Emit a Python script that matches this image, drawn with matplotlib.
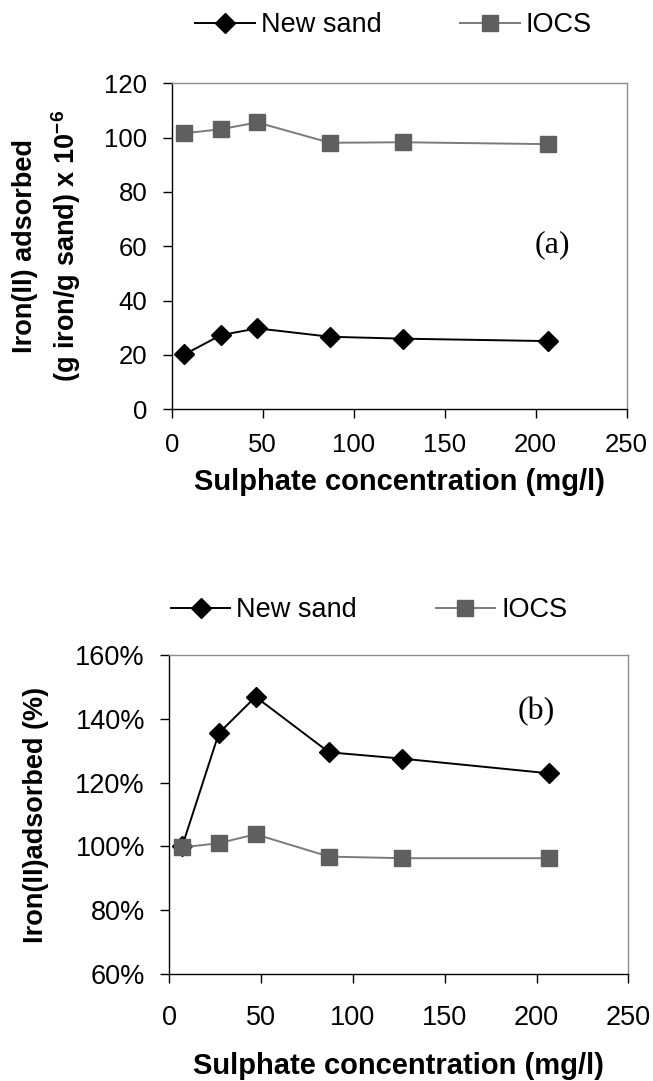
import matplotlib
matplotlib.use("Agg")
import matplotlib.pyplot as plt
from matplotlib.ticker import FuncFormatter

plt.rcParams['font.family'] = ['Liberation Sans', 'DejaVu Sans']
plt.rcParams['mathtext.default'] = 'regular'

# Data
sulphate = [7, 27, 47, 87, 127, 207]
new_sand_a = [20.2, 27.3, 29.8, 26.7, 26.0, 25.1]
iocs_a = [101.6, 103.1, 105.6, 98.1, 98.3, 97.6]
new_sand_b = [100.0, 135.5, 146.9, 129.5, 127.5, 122.9]
iocs_b = [99.7, 101.0, 103.8, 96.8, 96.3, 96.3]
xticks = [0, 50, 100, 150, 200, 250]
yticks_a = [0, 20, 40, 60, 80, 100, 120]
yticks_b = [60, 80, 100, 120, 140, 160]

W, H = 653, 1081
fig = plt.figure(figsize=(W / 100, H / 100), dpi=100)

def px_axes(l, t, r, b):
    return fig.add_axes([l / W, 1 - b / H, (r - l) / W, (b - t) / H])

ax1 = px_axes(171.7, 83.3, 626.7, 409.3)
ax2 = px_axes(169.3, 655, 628.3, 974)

ns_style = dict(color='black', lw=1.4, marker='D', ms=10, mfc='black', mec='black')
io_style = dict(color='#7a7a7a', lw=1.4, marker='s', ms=11, mfc='#5f5f5f', mec='#5f5f5f')

for ax in (ax1, ax2):
    ax.set_xlim(0, 250)
    ax.set_xticks(xticks)
    for s in ('top', 'right'):
        ax.spines[s].set_color('#8c8c8c')
        ax.spines[s].set_linewidth(1.0)
    for s in ('left', 'bottom'):
        ax.spines[s].set_color('black')
        ax.spines[s].set_linewidth(1.0)
    ax.tick_params(direction='out', length=6.5, width=1.0, colors='black')
    ax.tick_params(axis='y', pad=11)

ax1.tick_params(labelsize=18.5)
ax2.tick_params(labelsize=19.5)
ax1.tick_params(axis='x', pad=10.5)
ax2.tick_params(axis='x', pad=16)

leg_kw = dict(loc='center', ncol=2, frameon=False, fontsize=19.5, handlelength=2.2,
              handletextpad=0.22, columnspacing=2.9, borderaxespad=0)

# Panel (a)
l1, = ax1.plot(sulphate, new_sand_a, label='New sand', **ns_style)
l2, = ax1.plot(sulphate, iocs_a, label='IOCS', **io_style)
ax1.set_ylim(0, 120)
ax1.set_yticks(yticks_a)
ax1.set_xlabel('Sulphate concentration (mg/l)', fontsize=21, fontweight='bold', labelpad=8)
ax1.set_ylabel('Iron(II) adsorbed\n(g iron/g sand) x 10$^{-6}$', fontsize=19.5,
               fontweight='bold', labelpad=15, linespacing=1.45)
ax1.text(209, 60.5, '(a)', fontsize=23, family='Liberation Serif', ha='center', va='center')
fig.legend(handles=[l1, l2], bbox_to_anchor=(393.5 / W, 1 - 25 / H), **leg_kw)

# Panel (b)
m1, = ax2.plot(sulphate, new_sand_b, label='New sand', **ns_style)
m2, = ax2.plot(sulphate, iocs_b, label='IOCS', **io_style)
ax2.set_ylim(60, 160)
ax2.set_yticks(yticks_b)
ax2.yaxis.set_major_formatter(FuncFormatter(lambda v, p: f'{v:.0f}%'))
ax2.set_xlabel('Sulphate concentration (mg/l)', fontsize=21, fontweight='bold', labelpad=15)
ax2.set_ylabel('Iron(II)adsorbed (%)', fontsize=19.5, fontweight='bold', labelpad=19)
ax2.text(200, 142.2, '(b)', fontsize=23, family='Liberation Serif', ha='center', va='center')
fig.legend(handles=[m1, m2], bbox_to_anchor=(369 / W, 1 - 610 / H), **leg_kw)

fig.savefig('out.png', dpi=100)
